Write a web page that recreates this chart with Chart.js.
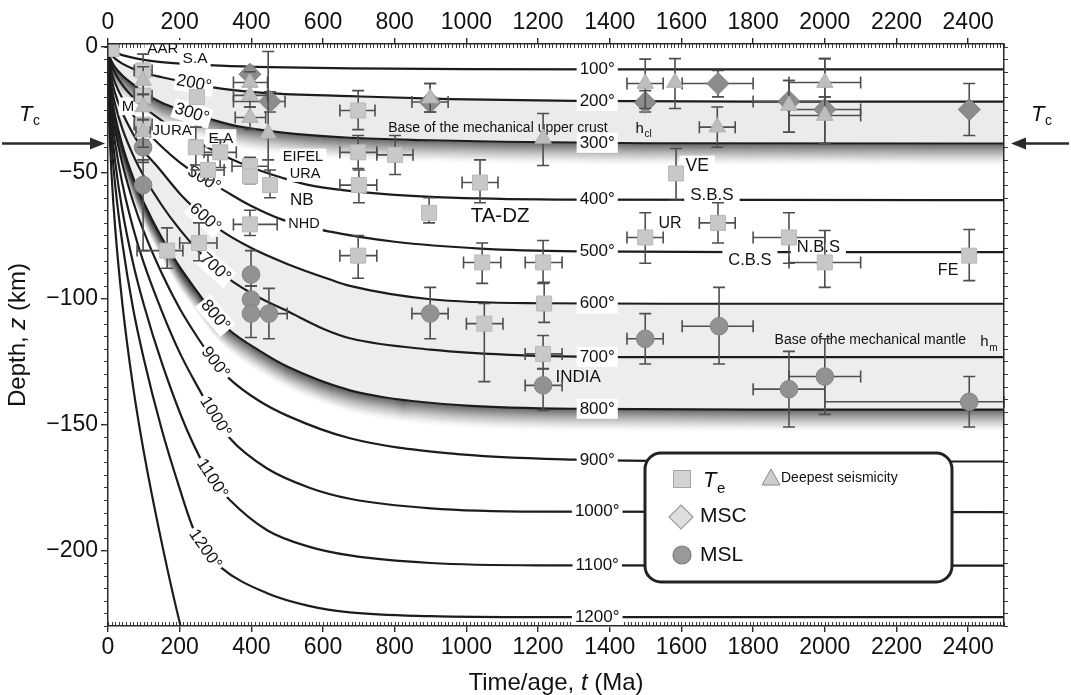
<!DOCTYPE html>
<html>
<head>
<meta charset="utf-8">
<title>Isotherms, Te, MSC and MSL versus age</title>
<script src="https://cdn.jsdelivr.net/npm/chart.js@4.4.1/dist/chart.umd.min.js"></script>
<style>
  html, body { margin: 0; padding: 0; background: #fff; }
  #wrap { width: 1071px; height: 695px; }
</style>
</head>
<body>
<div id="wrap"><canvas id="c" width="1071" height="695"></canvas></div>
<script>
// ---------------- isotherms: [time t (Ma), depth z (km)] ----------------
const iso100  = [[0,0],[1,-0.5],[3,-0.9],[6,-1.3],[10,-1.7],[20,-2.4],[40,-3.4],[81,-4.8],[130,-5.9],[193,-6.7],[313,-7.6],[450,-8.2],[675,-8.7],[1000,-9.0],[1500,-9.1],[2500,-9.1]];
const iso200  = [[0,0],[1,-1],[3,-1.8],[6,-2.6],[10,-3.4],[20,-4.8],[40,-6.8],[70,-8.8],[98,-10.3],[150,-12.2],[193,-13.5],[240,-14.7],[285,-16],[350,-17.3],[444,-18.5],[675,-19.7],[955,-20.9],[1300,-21.6],[1800,-21.9],[2500,-21.9]];
const iso300  = [[0,0],[1,-1.8],[3,-3.2],[6,-4.5],[10,-5.8],[20,-8.3],[40,-11.5],[70,-15],[100,-18.3],[150,-22.3],[200,-25],[250,-27.3],[300,-29.4],[368,-31.8],[488,-34.2],[675,-36.2],[900,-37.2],[1100,-37.8],[1500,-38.4],[2500,-38.5]];
const iso400  = [[0,0],[1,-2.4],[3,-4.2],[6,-5.9],[10,-7.6],[20,-10.7],[40,-15.2],[70,-20.1],[100,-24],[150,-29.4],[200,-34],[270,-39.5],[340,-44.4],[420,-49],[488,-52.2],[555,-54.8],[675,-57.3],[800,-58.9],[955,-60],[1300,-60.8],[2500,-61]];
const iso500  = [[0,0],[1,-3.3],[3,-5.6],[6,-8],[10,-10.3],[20,-14.5],[40,-20.5],[70,-27.2],[100,-32.5],[150,-39.8],[200,-46],[265,-52.4],[313,-56.2],[396,-63],[488,-68.8],[620,-73.5],[800,-77.5],[1038,-80.2],[1309,-81.3],[1800,-81.6],[2500,-81.6]];
const iso600  = [[0,0],[1,-4.2],[3,-7.2],[6,-10.2],[10,-13.1],[20,-18.6],[40,-26.2],[70,-34.7],[100,-41.5],[137,-47.5],[200,-58.3],[229,-62.5],[271,-68],[313,-72.8],[400,-80],[500,-86.3],[620,-92.5],[675,-95],[900,-100.3],[1200,-101.9],[1600,-102.1],[2500,-102.1]];
const iso700  = [[0,0],[1,-5.2],[3,-8.9],[6,-12.6],[10,-16.3],[20,-23],[40,-32.6],[70,-43.1],[100,-51.5],[150,-63],[200,-72.6],[250,-80.8],[299,-87.8],[340,-92.5],[420,-99.5],[500,-105],[600,-112],[675,-115.8],[900,-120.3],[1160,-122.6],[1500,-123.3],[2500,-123.3]];
const iso800  = [[0,0],[1,-6.2],[3,-10.7],[6,-15.2],[10,-19.6],[20,-27.7],[40,-39.2],[70,-51.9],[100,-62],[150,-75.9],[200,-87.5],[250,-97.5],[299,-106.8],[340,-112.7],[420,-120.5],[500,-127],[675,-136.5],[773,-139.3],[1000,-142.5],[1317,-143.8],[1800,-144.1],[2500,-144.1]];
const iso900  = [[0,0],[1,-7.4],[3,-12.7],[6,-18],[10,-23.2],[20,-32.9],[40,-46.5],[70,-61.5],[100,-73.5],[150,-90],[200,-104],[250,-115.5],[299,-125.5],[340,-132],[420,-140.5],[500,-146.5],[675,-155.5],[955,-161.5],[1300,-164],[1800,-164.7],[2500,-164.7]];
const iso1000 = [[0,0],[1,-8.6],[3,-14.9],[6,-21],[10,-27.2],[20,-38.5],[40,-54.4],[70,-72],[100,-86],[150,-105],[200,-121.5],[250,-135],[299,-147],[340,-155.5],[444,-167.5],[560,-175],[675,-179.5],[900,-183.3],[1200,-184.6],[2500,-184.8]];
const iso1100 = [[0,0],[1,-10.3],[3,-17.8],[6,-25],[10,-32.4],[20,-45.8],[40,-65],[70,-86],[100,-102.5],[150,-125.5],[221,-152.4],[290,-171.5],[340,-180],[444,-192],[560,-198.5],[675,-202],[900,-205],[1200,-205.9],[2500,-206]];
const iso1200 = [[0,0],[1,-12.4],[3,-21.5],[6,-30.4],[10,-39],[20,-55],[40,-78],[70,-104],[100,-124],[150,-152],[200,-175.5],[237,-191],[271,-199.6],[313,-206.5],[444,-217],[560,-222],[675,-224.6],[900,-226.1],[1200,-226.5],[2500,-226.5]];
const iso1300 = [[0,0],[1,-16],[3,-28],[6,-39.5],[10,-51],[20,-72],[40,-102],[70,-135],[100,-161],[150,-197],[206,-232],[230,-244]];

const isotherms = [
  { temp: 100, pts: iso100 }, { temp: 200, pts: iso200 }, { temp: 300, pts: iso300 },
  { temp: 400, pts: iso400 }, { temp: 500, pts: iso500 }, { temp: 600, pts: iso600 },
  { temp: 700, pts: iso700 }, { temp: 800, pts: iso800 }, { temp: 900, pts: iso900 },
  { temp: 1000, pts: iso1000 }, { temp: 1100, pts: iso1100 }, { temp: 1200, pts: iso1200 },
  { temp: 1300, pts: iso1300 }
];

// ---------------- axis ticks ----------------
const timeTicks  = [0,200,400,600,800,1000,1200,1400,1600,1800,2000,2200,2400];
const depthTicks = [0,-50,-100,-150,-200];
const tcDepth = -38.5;   // crustal thickness Tc

// ---------------- Te (elastic thickness) ----------------
const teT = [10,98,98,98,248,245,313,279,396,396,452,165,254,396,698,698,801,700,896,1038,698,1044,1214,1050,1217,1214,1499,1585,1702,1900,2000,2403];
const teZ = [-1,-9.5,-19.5,-31,-20,-40,-42,-49,-47.5,-51.5,-55,-81,-78,-70.6,-25.4,-42,-43,-55,-66,-54,-83,-85.7,-85.7,-110,-102,-122,-75.8,-50.4,-70,-75.8,-85.7,-83];
const teTErr = [null,[73,123],[73,123],[73,123],null,null,[268,358],[234,324],[346,447],null,null,[81,209],[200,304],[350,472],[647,745],[647,750],[750,851],[647,750],null,[988,1088],[647,750],[992,1096],[1164,1267],[1000,1102],null,[1164,1267],[1448,1549],null,[1650,1750],[1800,2000],[1900,2100],null];
const teZErr = [null,[-3,-15],[-14,-25],[-25,-37],null,[-32,-47],[-37,-48],[-43,-53],[-44,-54.4],null,[-49,-60],[-72,-88],[-70,-85],[-65,-75],[-17.5,-33],[-35.3,-48.4],[-35.3,-50.8],[-49,-62],[-60,-70],[-45,-62],[-75,-92],[-78,-94],[-77,-94],[-102,-133],[-93.6,-109.5],[-114.7,-127.8],[-66,-86],[-40.5,-61],[-62,-78],[-66,-86],[-73,-95.6],[-72.6,-92.9]];

// ---------------- deepest seismicity ----------------
const seisT = [98,98,98,396,396,396,447,899,1214,1499,1582,1700,1900,2000,2000];
const seisZ = [-13.5,-24,-34,-14.3,-19.4,-28.2,-34.5,-20.5,-36.5,-14.7,-14.3,-32,-23.4,-14.3,-27.4];
const seisTErr = [null,null,[78,118],[350,445],[350,445],[355,440],null,null,null,[1448,1549],null,[1650,1750],null,[1900,2100],[1900,2100]];
const seisZErr = [[-8,-19],[-19,-29],[-29,-40],[-10,-19],[-15,-24],[-24,-33],[-2,-45],[-14.7,-26],[-26.6,-47.2],[-5,-24.6],[-4.8,-24.6],[-24,-40],[-13.5,-34],[-4.8,-20],[-20,-38.5]];

// ---------------- MSC ----------------
const mscT = [396,452,899,1499,1702,1900,2000,2403];
const mscZ = [-11,-21.8,-22,-22.2,-14.7,-21.8,-25,-25];
const mscTErr = [null,[350,494],[848,949],null,[1602,1800],[1800,2000],[1900,2100],null];
const mscZErr = [[-8,-14],[-18,-26],[-14.7,-26],[-17.5,-26],[-9.5,-20],[-13.5,-34],[-4.8,-38.5],[-14.7,-35.3]];

// ---------------- MSL ----------------
const mslT = [98,98,399,399,399,449,899,1214,1499,1705,1900,2000,2403];
const mslZ = [-40,-55,-90.5,-100.4,-106,-106,-106,-134.5,-116,-111,-136,-131,-141];
const mslTErr = [null,null,null,null,null,[402,500],[848,949],[1164,1267],[1448,1549],[1602,1800],[1800,2000],[1900,2100],[2000,2500]];
const mslZErr = [[-35,-46],[-45,-81],[-81,-95],[-95,-106],[-100,-115.5],[-96,-116],[-95.6,-116],[-128,-144.4],[-106,-126],[-95.6,-126],[-121,-151],[-116,-146],[-131,-151]];

// ---------------- fonts ----------------
const NARROW = "'Liberation Sans Narrow', 'Arial Narrow', 'Liberation Sans', sans-serif";
const SANS = "'Liberation Sans', Arial, Helvetica, sans-serif";

// ---------------- datasets ----------------
const toXY = (ts, zs) => ts.map((t, i) => ({ x: t, y: zs[i] }));
const datasets = isotherms.map((iso, i) => ({
  type: 'line',
  label: iso.temp + '°',
  data: iso.pts.map(([t, z]) => ({ x: t, y: z })),
  borderColor: '#1c1c1c',
  borderWidth: 2.2,
  pointRadius: 0,
  pointHoverRadius: 0,
  cubicInterpolationMode: 'monotone',
  fill: false,
  clip: 0,
  order: 20
}));
// mechanical upper crust band (200°–300°) and mechanical mantle band (600°–800°)
datasets[2].fill = 1;  datasets[2].backgroundColor = '#ebebeb';
datasets[7].fill = 5;  datasets[7].backgroundColor = '#ededed';

datasets.push({
  label: 'Te', data: toXY(teT, teZ), errT: teTErr, errZ: teZErr,
  pointStyle: 'rect', pointRadius: 10.6, backgroundColor: '#c8c8c8', borderColor: '#b8b8b8', borderWidth: 1, order: 4
});
datasets.push({
  label: 'MSC', data: toXY(mscT, mscZ), errT: mscTErr, errZ: mscZErr,
  pointStyle: 'rectRot', pointRadius: 11, backgroundColor: '#8c8c8c', borderColor: '#7c7c7c', borderWidth: 1, order: 3
});
datasets.push({
  label: 'MSL', data: toXY(mslT, mslZ), errT: mslTErr, errZ: mslZErr,
  pointStyle: 'circle', pointRadius: 8.8, backgroundColor: '#929292', borderColor: '#848484', borderWidth: 1, order: 2
});
datasets.push({
  label: 'Deepest seismicity', data: toXY(seisT, seisZ), errT: seisTErr, errZ: seisZErr,
  pointStyle: 'triangle', pointRadius: 9.5, backgroundColor: '#bdbdbd', borderColor: '#b0b0b0', borderWidth: 1, order: 1
});

// ---------------- helpers ----------------
function isoLine(chart, temp) {
  const idx = isotherms.findIndex(d => d.temp === temp);
  return chart.getDatasetMeta(idx).dataset;
}
function yOnLine(line, px) {
  const p = line.interpolate({ x: px }, 'x');
  if (!p) return null;
  return Array.isArray(p) ? p[0].y : p.y;
}
function boxedText(ctx, text, x, y, size, opts) {
  opts = opts || {};
  ctx.save();
  ctx.translate(x, y);
  if (opts.angle) ctx.rotate(opts.angle);
  ctx.font = (opts.style || '') + ' ' + size + 'px ' + (opts.family || SANS);
  const w = ctx.measureText(text).width;
  if (opts.bg) {
    const pad = opts.pad == null ? 3 : opts.pad;
    ctx.fillStyle = '#ffffff';
    ctx.fillRect(-w / 2 - pad, -size * 0.6, w + 2 * pad, size * 1.18);
  }
  ctx.fillStyle = opts.color || '#111';
  ctx.textAlign = 'center';
  ctx.textBaseline = 'middle';
  ctx.fillText(text, 0, 0);
  ctx.restore();
}
// draws runs of differently styled text centred at (x, y) on a middle baseline
function mixedText(ctx, runs, x, y) {
  let total = 0;
  runs.forEach(r => { ctx.font = r.font; r.w = ctx.measureText(r.text).width; total += r.w; });
  let cx = x - total / 2;
  ctx.textAlign = 'left';
  ctx.textBaseline = 'middle';
  runs.forEach(r => { ctx.font = r.font; ctx.fillText(r.text, cx, y + (r.dy || 0)); cx += r.w; });
}
function subText(ctx, main, sub, x, y, mainFont, subFont, subDy) {
  ctx.font = mainFont;
  ctx.textAlign = 'left';
  ctx.textBaseline = 'alphabetic';
  ctx.fillText(main, x, y);
  const w = ctx.measureText(main).width;
  ctx.font = subFont;
  ctx.fillText(sub, x + w + 0.5, y + subDy);
}

// ---------------- plugins ----------------
// soft dark fringe below the base of the mechanical crust and mantle
const shadowPlugin = {
  id: 'isoShadow',
  beforeDatasetsDraw(chart) {
    const { ctx, chartArea: a } = chart;
    ctx.save();
    ctx.beginPath();
    ctx.rect(a.left, a.top, a.right - a.left, a.bottom - a.top);
    ctx.clip();
    [300, 800].forEach(temp => {
      const line = isoLine(chart, temp);
      const depth = 24;
      for (let i = depth; i >= 1; i--) {
        const k = 1 - i / depth;
        ctx.save();
        ctx.translate(0, i);
        ctx.strokeStyle = 'rgba(25,25,25,' + (0.55 * Math.pow(k, 1.7)).toFixed(3) + ')';
        ctx.lineWidth = 1.5;
        ctx.beginPath();
        line.path(ctx);
        ctx.stroke();
        ctx.restore();
      }
    });
    ctx.restore();

    // minor ticks on all four sides
    const { x, y } = chart.scales;
    ctx.save();
    ctx.strokeStyle = '#3a3a3a';
    ctx.lineWidth = 1;
    ctx.beginPath();
    for (let t = 0; t <= 2500; t += 10) {
      const px = Math.round(x.getPixelForValue(t)) + 0.5;
      ctx.moveTo(px, a.bottom); ctx.lineTo(px, a.bottom - 4);
      ctx.moveTo(px, a.top); ctx.lineTo(px, a.top + 4);
    }
    for (let z = 0; z >= -230; z -= 5) {
      const py = Math.round(y.getPixelForValue(z)) + 0.5;
      ctx.moveTo(a.left, py); ctx.lineTo(a.left - 4, py);
      ctx.moveTo(a.right, py); ctx.lineTo(a.right + 4, py);
    }
    ctx.stroke();
    ctx.restore();
  }
};

const errorBarPlugin = {
  id: 'errorBars',
  beforeDatasetDraw(chart, args) {
    const ds = chart.data.datasets[args.index];
    if (!ds.errT) return;
    const { ctx, scales: { x, y } } = chart;
    const cap = 6;
    ctx.save();
    ctx.strokeStyle = '#4e4e4e';
    ctx.lineWidth = 1.6;
    ds.data.forEach((p, i) => {
      const px = x.getPixelForValue(p.x), py = y.getPixelForValue(p.y);
      const et = ds.errT[i], ez = ds.errZ[i];
      ctx.beginPath();
      if (et) {
        const x0 = x.getPixelForValue(et[0]), x1 = x.getPixelForValue(et[1]);
        ctx.moveTo(x0, py); ctx.lineTo(x1, py);
        ctx.moveTo(x0, py - cap); ctx.lineTo(x0, py + cap);
        ctx.moveTo(x1, py - cap); ctx.lineTo(x1, py + cap);
      }
      if (ez) {
        const y0 = y.getPixelForValue(ez[0]), y1 = y.getPixelForValue(ez[1]);
        ctx.moveTo(px, y0); ctx.lineTo(px, y1);
        ctx.moveTo(px - cap, y0); ctx.lineTo(px + cap, y0);
        ctx.moveTo(px - cap, y1); ctx.lineTo(px + cap, y1);
      }
      ctx.stroke();
    });
    ctx.restore();
  }
};

// isotherm temperatures along the curves (left, rotated) and on the flat part (right)
const leftIsoLabels = [[200,240],[300,234],[500,268],[600,271],[700,299],[800,299],[900,299],[1000,299],[1100,290],[1200,271]];
const rightIsoLabelT = 1365;
const siteLabels = [
  { text: 'AAR', t: 153, z: -1, size: 15, bg: true },
  { text: 'S.A', t: 243, z: -5, size: 15.5, bg: true },
  { text: 'M', t: 56, z: -23.8, size: 15, bg: true },
  { text: 'JURA', t: 179, z: -33.3, size: 15, bg: true },
  { text: 'E.A', t: 315, z: -36.5, size: 15.5, bg: true },
  { text: 'EIFEL', t: 544, z: -44, size: 14.5, bg: true },
  { text: 'URA', t: 550, z: -50.4, size: 14.5, bg: true },
  { text: 'NB', t: 541, z: -61, size: 17, bg: false },
  { text: 'NHD', t: 547, z: -70.6, size: 14.5, bg: true },
  { text: 'TA-DZ', t: 1094, z: -67.5, size: 20.5, bg: false },
  { text: 'Base of the mechanical upper crust', t: 1088, z: -32.5, size: 14, bg: false },
  { text: 'VE', t: 1644, z: -47.5, size: 17.5, bg: true, pad: 6 },
  { text: 'S.B.S', t: 1685, z: -59, size: 17, bg: true, pad: 6 },
  { text: 'UR', t: 1568, z: -70.4, size: 16, bg: false },
  { text: 'C.B.S', t: 1791, z: -84.8, size: 16.5, bg: true, pad: 6 },
  { text: 'N.B.S', t: 1982, z: -79.6, size: 16.5, bg: true, pad: 6 },
  { text: 'FE', t: 2344, z: -89, size: 16, bg: false },
  { text: 'INDIA', t: 1312, z: -131.3, size: 17, bg: false },
  { text: 'Base of the mechanical mantle', t: 2127, z: -116.7, size: 14, bg: false }
];

const labelPlugin = {
  id: 'isoLabels',
  afterDatasetDraw(chart, args) {
    if (args.index !== 0) return;   // the 100° isotherm is the last curve drawn
    const { ctx, scales: { x, y } } = chart;

    // right-hand labels
    const rx = x.getPixelForValue(rightIsoLabelT);
    isotherms.forEach(iso => {
      if (iso.temp > 1200) return;
      const line = isoLine(chart, iso.temp);
      const ry = yOnLine(line, rx);
      if (ry != null) boxedText(ctx, iso.temp + '°', rx, ry, 17, { bg: true, pad: 3 });
    });

    // left-hand labels, rotated with the curve
    leftIsoLabels.forEach(([temp, t]) => {
      const line = isoLine(chart, temp);
      const px = x.getPixelForValue(t);
      const py = yOnLine(line, px);
      const ya = yOnLine(line, px - 3), yb = yOnLine(line, px + 3);
      const ang = Math.atan2(yb - ya, 6);
      boxedText(ctx, temp + '°', px, py, 17, { bg: true, pad: 2, angle: ang });
    });

    // site names and annotations
    siteLabels.forEach(l => {
      boxedText(ctx, l.text, x.getPixelForValue(l.t), y.getPixelForValue(l.z), l.size, { bg: l.bg, pad: l.pad });
    });
    ctx.save();
    ctx.fillStyle = '#111';
    subText(ctx, 'h', 'cl', x.getPixelForValue(1472), y.getPixelForValue(-34.5), '15px ' + SANS, '10px ' + SANS, 4);
    subText(ctx, 'h', 'm', x.getPixelForValue(2434), y.getPixelForValue(-119), '15px ' + SANS, '10px ' + SANS, 5);
    ctx.restore();
  },
  afterDatasetsDraw(chart) {
    // legend panel
    const ctx = chart.ctx;
    const L = 645, T = 453, W = 307, H = 129, R = 16;
    ctx.save();
    ctx.beginPath();
    ctx.roundRect(L, T, W, H, R);
    ctx.fillStyle = '#ffffff';
    ctx.fill();
    ctx.lineWidth = 3;
    ctx.strokeStyle = '#222';
    ctx.stroke();

    // Te square
    ctx.fillStyle = '#d3d3d3'; ctx.strokeStyle = '#a5a5a5'; ctx.lineWidth = 1;
    ctx.fillRect(673.5, 470.5, 17, 17); ctx.strokeRect(673.5, 470.5, 17, 17);
    ctx.fillStyle = '#111';
    subText(ctx, 'T', 'e', 703, 487, 'italic 22px ' + SANS, '15px ' + SANS, 6);

    // deepest seismicity triangle
    ctx.beginPath();
    ctx.moveTo(771, 469); ctx.lineTo(780, 485); ctx.lineTo(762, 485); ctx.closePath();
    ctx.fillStyle = '#cdcdcd'; ctx.fill();
    ctx.strokeStyle = '#8a8a8a'; ctx.lineWidth = 1; ctx.stroke();
    ctx.fillStyle = '#111';
    ctx.font = '14px ' + SANS; ctx.textAlign = 'left'; ctx.textBaseline = 'middle';
    ctx.fillText('Deepest seismicity', 781, 478.5);

    // MSC diamond
    ctx.beginPath();
    ctx.moveTo(681, 505); ctx.lineTo(693, 517); ctx.lineTo(681, 529); ctx.lineTo(669, 517); ctx.closePath();
    ctx.fillStyle = '#dedede'; ctx.fill();
    ctx.strokeStyle = '#9a9a9a'; ctx.lineWidth = 1.2; ctx.stroke();
    ctx.fillStyle = '#111';
    ctx.font = '21px ' + SANS;
    ctx.fillText('MSC', 700, 516.5);

    // MSL circle
    ctx.beginPath();
    ctx.arc(682, 555, 9, 0, Math.PI * 2);
    ctx.fillStyle = '#999'; ctx.fill();
    ctx.strokeStyle = '#7a7a7a'; ctx.stroke();
    ctx.fillStyle = '#111';
    ctx.fillText('MSL', 700, 555.5);
    ctx.restore();
  },
  afterDraw(chart) {
    const { ctx, scales: { y }, chartArea: a } = chart;
    ctx.save();
    ctx.fillStyle = '#111';
    // axis titles
    mixedText(ctx, [
      { text: 'Time/age, ', font: '24px ' + NARROW },
      { text: 't', font: 'italic 24px ' + NARROW },
      { text: ' (Ma)', font: '24px ' + NARROW }
    ], 556, 683);
    ctx.save();
    ctx.translate(18, 335);
    ctx.rotate(-Math.PI / 2);
    mixedText(ctx, [
      { text: 'Depth, ', font: '24px ' + NARROW },
      { text: 'z', font: 'italic 24px ' + NARROW },
      { text: ' (km)', font: '24px ' + NARROW }
    ], 0, 0);
    ctx.restore();

    // Tc arrows
    const ty = y.getPixelForValue(tcDepth);
    ctx.strokeStyle = '#2b2b2b';
    ctx.fillStyle = '#2b2b2b';
    ctx.lineWidth = 2.6;
    ctx.beginPath(); ctx.moveTo(2, ty); ctx.lineTo(a.left - 14, ty); ctx.stroke();
    ctx.beginPath(); ctx.moveTo(a.left - 3, ty); ctx.lineTo(a.left - 18, ty - 6); ctx.lineTo(a.left - 18, ty + 6); ctx.closePath(); ctx.fill();
    ctx.beginPath(); ctx.moveTo(1069, ty); ctx.lineTo(a.right + 18, ty); ctx.stroke();
    ctx.beginPath(); ctx.moveTo(a.right + 7, ty); ctx.lineTo(a.right + 22, ty - 6); ctx.lineTo(a.right + 22, ty + 6); ctx.closePath(); ctx.fill();
    ctx.fillStyle = '#111';
    subText(ctx, 'T', 'c', 19, 121, 'italic 22px ' + SANS, '14px ' + SANS, 4);
    subText(ctx, 'T', 'c', 1031, 121, 'italic 22px ' + SANS, '14px ' + SANS, 4);
    ctx.restore();
  }
};

// ---------------- scales ----------------
const tickFont = { family: NARROW, size: 23 };
const minus = v => (v < 0 ? '\u2212' + Math.abs(v) : String(v));
function timeAxis(position, height) {
  return {
    type: 'linear', position, min: 0, max: 2500,
    afterBuildTicks: s => { s.ticks = timeTicks.map(v => ({ value: v })); },
    afterFit: s => { s.height = height; },
    ticks: { font: tickFont, color: '#111', padding: 2, maxRotation: 0, autoSkip: false, callback: v => String(v) },
    grid: { drawOnChartArea: false, drawTicks: true, tickLength: 6, color: '#2a2a2a', lineWidth: 1.4 },
    border: { display: true, color: '#2a2a2a', width: 1.5, z: 1 }
  };
}
function depthAxis(position, width, showLabels) {
  return {
    type: 'linear', position, min: -230, max: 1,
    afterBuildTicks: s => { s.ticks = depthTicks.map(v => ({ value: v })); },
    afterFit: s => { s.width = width; },
    ticks: { display: showLabels, font: tickFont, color: '#111', padding: 3, autoSkip: false, callback: minus },
    grid: { drawOnChartArea: false, drawTicks: showLabels, tickLength: 7, color: '#2a2a2a', lineWidth: 1.4 },
    border: { display: true, color: '#2a2a2a', width: 1.5, z: 1 }
  };
}

new Chart(document.getElementById('c'), {
  type: 'scatter',
  data: { datasets },
  options: {
    responsive: false,
    animation: false,
    devicePixelRatio: 1,
    events: [],
    layout: { padding: 0 },
    plugins: { legend: { display: false }, tooltip: { enabled: false }, filler: { propagate: false } },
    scales: {
      x: timeAxis('bottom', 69),
      x2: timeAxis('top', 44),
      y: depthAxis('left', 108, true),
      y2: depthAxis('right', 67, false)
    }
  },
  plugins: [shadowPlugin, errorBarPlugin, labelPlugin]
});
</script>
</body>
</html>
